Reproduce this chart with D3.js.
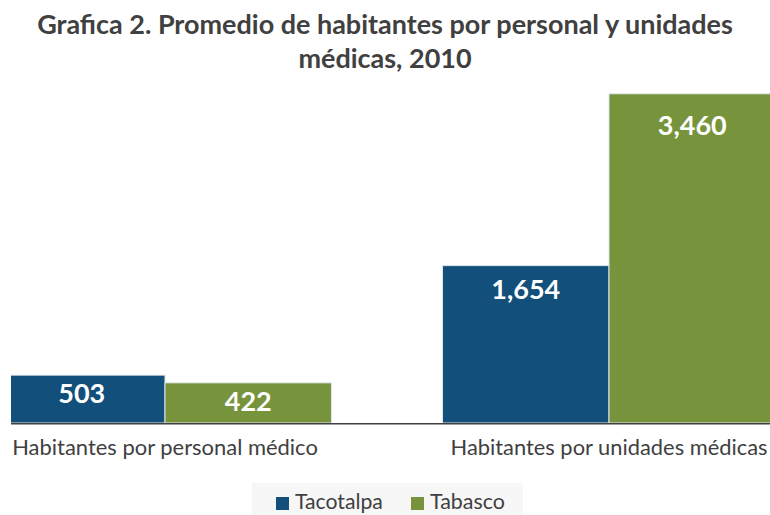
<!DOCTYPE html>
<html><head><meta charset="utf-8">
<script src="https://cdn.jsdelivr.net/npm/d3@7"></script>
<style>html,body{margin:0;padding:0;background:#fff;}svg{display:block;font-family:Lato,"Open Sans",sans-serif;}</style>
</head><body>
<svg id="c" width="770" height="515"></svg>
<script>
const titleLines = ["Grafica 2. Promedio de habitantes por personal y unidades", "médicas, 2010"];
const categories = ["Habitantes por personal médico", "Habitantes por unidades médicas"];
const seriesNames = ["Tacotalpa", "Tabasco"];
const tacotalpa = [503, 1654];
const tabasco = [422, 3460];
const seriesColors = ["#124f7a", "#77933c"];

const svg = d3.select("#c");
const W = 770, H = 515;

function fit(sel, target) {
  const n = sel.node(); const w = n.getComputedTextLength();
  const fs = parseFloat(sel.attr("font-size"));
  sel.attr("font-size", fs * target / w);
}

// title
const t1 = svg.append("text").attr("x", 385).attr("y", 34).attr("text-anchor", "middle")
  .attr("font-size", 22).attr("font-weight", "bold").attr("fill", "#404040").text(titleLines[0]);
fit(t1, 696);
const t2 = svg.append("text").attr("x", 385).attr("y", 68).attr("text-anchor", "middle")
  .attr("font-size", t1.attr("font-size")).attr("font-weight", "bold").attr("fill", "#404040").text(titleLines[1]);

const x0 = d3.scaleBand().domain(categories).range([-57, 831]).paddingInner(0.25).paddingOuter(0.125);
const x1 = d3.scaleBand().domain(seriesNames).range([0, x0.bandwidth()]);
const y = d3.scaleLinear().domain([0, 3500]).range([423, 90]);
const color = d3.scaleOrdinal().domain(seriesNames).range(seriesColors);

const data = categories.map((c, i) => ({cat: c, vals: [
  {s: seriesNames[0], v: tacotalpa[i]}, {s: seriesNames[1], v: tabasco[i]}]}));

svg.append("defs").append("clipPath").attr("id", "clip")
  .append("rect").attr("x", 11).attr("y", 0).attr("width", W - 11).attr("height", H);

const plot = svg.append("g").attr("clip-path", "url(#clip)");
const groups = plot.selectAll("g.grp").data(data).join("g").attr("class", "grp")
  .attr("transform", d => `translate(${x0(d.cat)},0)`);
groups.selectAll("rect").data(d => d.vals).join("rect")
  .attr("x", d => x1(d.s)).attr("width", x1.bandwidth())
  .attr("y", d => y(d.v)).attr("height", d => y(0) - y(d.v))
  .attr("fill", d => color(d.s)).attr("stroke", "#dfe6ec").attr("stroke-width", 1);
groups.selectAll("text").data(d => d.vals).join("text")
  .attr("x", d => x1(d.s) + x1.bandwidth() / 2)
  .attr("y", d => y(d.v) + 26 + 0.0045 * d.v)
  .attr("text-anchor", "middle").attr("fill", "#fff").attr("font-weight", "bold")
  .attr("font-size", 27).text(d => d3.format(",")(d.v));

// axis line
const xAxis = d3.axisBottom(x0).tickSize(0).tickPadding(16);
const ax = svg.append("g").attr("transform", `translate(0,${y(0)})`).attr("clip-path", "url(#clip)").call(xAxis);
ax.select(".domain").attr("d", `M11,0H${W}`).attr("stroke", "#404040").attr("stroke-width", 3);
const labelWidths = [306, 317];
ax.selectAll(".tick text").attr("font-size", 18).attr("fill", "#404040")
  .attr("font-family", "Lato, sans-serif").attr("dy", "0.71em");
ax.selectAll(".tick text").each(function(d, i) { fit(d3.select(this), labelWidths[i]); });

// legend
const lg = svg.append("g");
lg.append("rect").attr("x", 252).attr("y", 483).attr("width", 271).attr("height", 40).attr("fill", "#f7f7f7");
const legX = [276, 411];
const legW = [88, 75];
seriesNames.forEach((s, i) => {
  lg.append("rect").attr("x", legX[i]).attr("y", 497).attr("width", 13).attr("height", 13).attr("fill", color(s));
  const t = lg.append("text").attr("x", legX[i] + 19).attr("y", 509).attr("font-size", 19).attr("fill", "#404040").text(s);
  fit(t, legW[i]);
});
</script>
</body></html>
